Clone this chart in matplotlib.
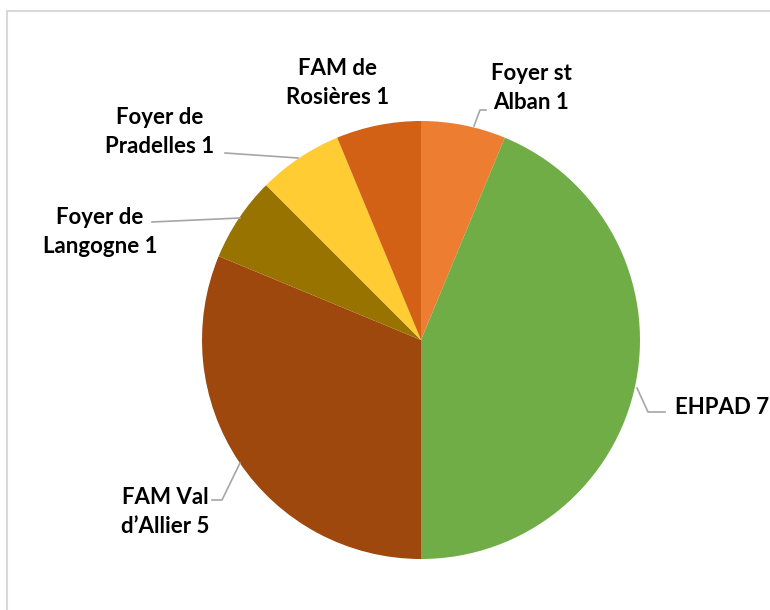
import matplotlib.pyplot as plt
from matplotlib.patches import Rectangle

# data, clockwise from 12 o'clock
labels = ["Foyer st\nAlban 1", "EHPAD 7", "FAM Val\nd\u2019Allier 5",
          "Foyer de\nLangogne 1", "Foyer de\nPradelles 1", "FAM de\nRosières 1"]
values = [1, 7, 5, 1, 1, 1]
colors = ["#ED7D31", "#70AD47", "#9E480E", "#997300", "#FFCC33", "#D26116"]

# pixel layout of the reference (770x610)
W, H = 770, 610
CX, CY, R = 421, 340, 219


def px(x, y):
    """pixel position -> data coords (pie radius = 1)"""
    return (x - CX) / R, (CY - y) / R


fig = plt.figure(figsize=(7.7, 6.1), dpi=100)
ax = fig.add_axes([0, 0, 1, 1])
ax.pie(values, colors=colors, startangle=90, counterclock=False,
       radius=1, center=(0, 0), wedgeprops=dict(linewidth=0))
ax.set_xlim(px(0, 0)[0], px(W, 0)[0])
ax.set_ylim(px(0, H)[1], px(0, 0)[1])
ax.set_aspect("auto")
ax.axis("off")

# light grey chart border
fig.patches.append(Rectangle((7, -20), 800, H - 11 + 20, transform=None,
                             fill=False, edgecolor="#D9D9D9", linewidth=1.5))

font = dict(family=["Lato", "DejaVu Sans"], fontsize=16, fontweight="bold",
            color="black", linespacing=1.45)
line_kw = dict(color="#A6A6A6", linewidth=1.2)

# label text positions (pixels) and leader lines (pixels)
text_pos = [(531, 88, "center"), (675, 408, "left"), (165, 512, "center"),
            (100, 232, "center"), (160, 132, "center"), (338, 83, "center")]
leaders = [
    [(474, 126), (480, 110), (486, 110)],
    [(637, 388), (648, 412), (665, 412)],
    [(240, 463), (222, 500), (212, 500)],
    [(240, 218), (152, 222)],
    [(298, 158), (225, 153)],
    None,
]

for lab, (x, y, ha), ld in zip(labels, text_pos, leaders):
    tx, ty = px(x, y)
    ax.text(tx, ty, lab, ha=ha, va="center", **font)
    if ld:
        xs, ys = zip(*[px(a, b) for a, b in ld])
        ax.plot(xs, ys, **line_kw)

fig.savefig("out.png", dpi=100, facecolor="white")
